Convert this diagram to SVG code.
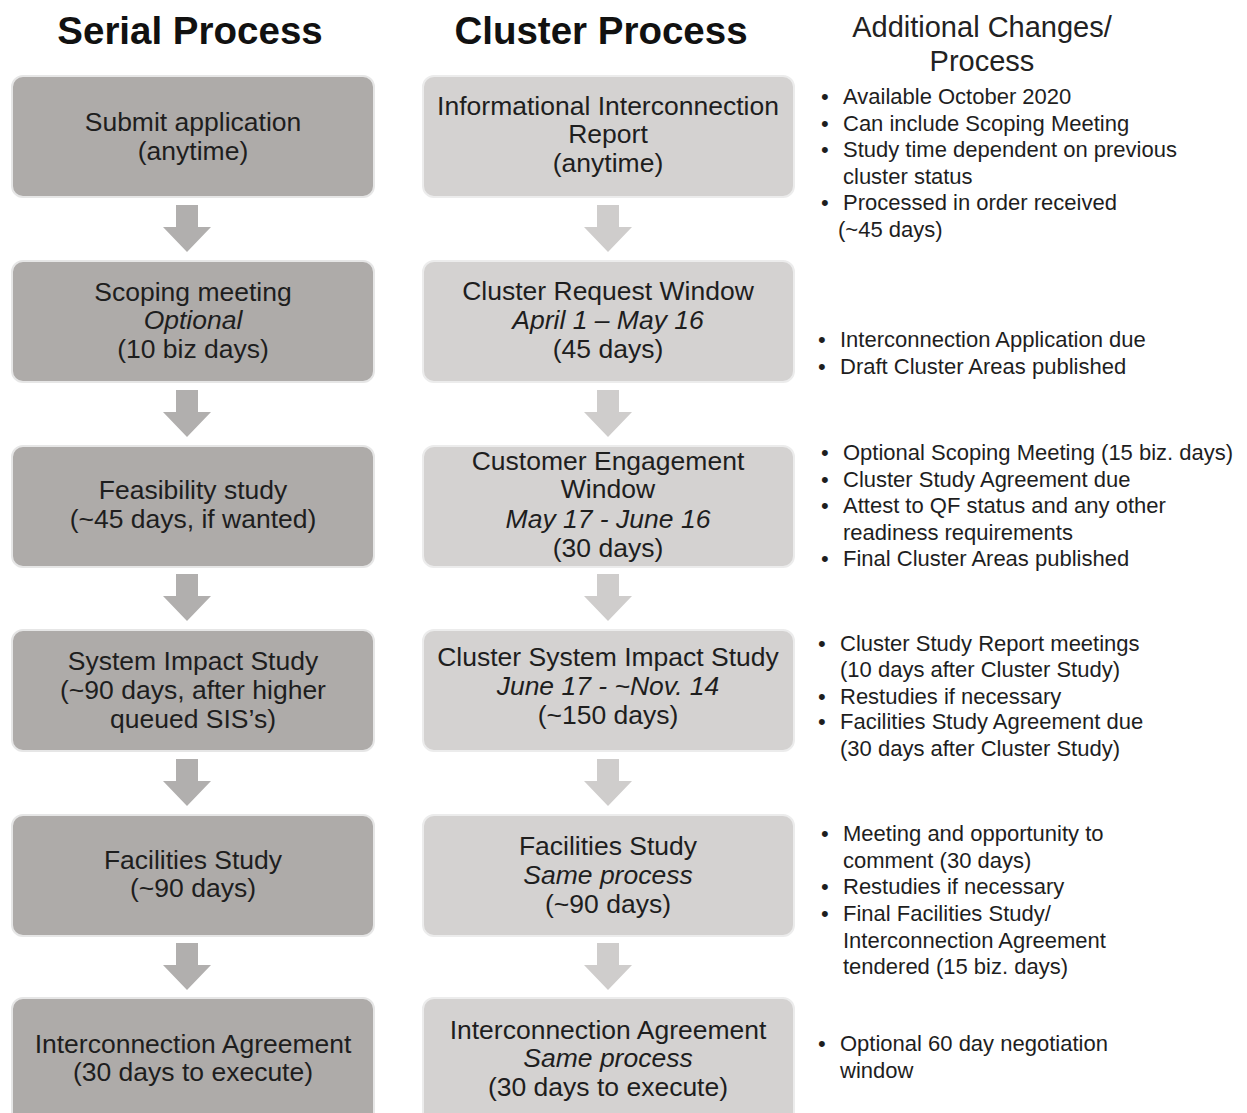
<svg xmlns="http://www.w3.org/2000/svg" width="1247" height="1113" viewBox="0 0 1247 1113">
<defs>
<style>
.title{font-family:"Liberation Sans",Arial,sans-serif;font-weight:bold;font-size:38.5px;fill:#111;text-anchor:middle}
.head{font-family:"Liberation Sans",Arial,sans-serif;font-size:29px;fill:#222;text-anchor:middle}
.box-s{fill:#aeaba9;stroke:#e6e6e6;stroke-width:2}
.box-c{fill:#d4d2d1;stroke:#ececec;stroke-width:2}
.bt{font-family:"Liberation Sans",Arial,sans-serif;font-size:26.5px;fill:#1e1e1e;text-anchor:middle}
.it{font-style:italic}
.arr-s{fill:#b1afae}
.arr-c{fill:#cfcdcc}
.bl{font-family:"Liberation Sans",Arial,sans-serif;font-size:22px;fill:#1e1e1e}
</style>
<path id="arrow" d="M-11,0 H11 V22 H24 L0,47 L-24,22 H-11 Z"/>
</defs>
<rect width="1247" height="1113" fill="#fff"/>

<text class="title" x="190" y="44">Serial Process</text>
<text class="title" x="601" y="44">Cluster Process</text>
<text class="head" x="982" y="37">Additional Changes/</text>
<text class="head" x="982" y="71">Process</text>

<g id="connectors">
<use href="#arrow" class="arr-s" x="187" y="205"/>
<use href="#arrow" class="arr-s" x="187" y="390"/>
<use href="#arrow" class="arr-s" x="187" y="574"/>
<use href="#arrow" class="arr-s" x="187" y="759"/>
<use href="#arrow" class="arr-s" x="187" y="943"/>
<use href="#arrow" class="arr-c" x="608" y="205"/>
<use href="#arrow" class="arr-c" x="608" y="390"/>
<use href="#arrow" class="arr-c" x="608" y="574"/>
<use href="#arrow" class="arr-c" x="608" y="759"/>
<use href="#arrow" class="arr-c" x="608" y="943"/>
</g>

<g id="s1"><rect class="box-s" x="12" y="76" width="362" height="121" rx="11"/>
<text class="bt" x="193" y="131">Submit application</text>
<text class="bt" x="193" y="160">(anytime)</text></g>
<g id="s2"><rect class="box-s" x="12" y="261" width="362" height="121" rx="11"/>
<text class="bt" x="193" y="301">Scoping meeting</text>
<text class="bt it" x="193" y="329">Optional</text>
<text class="bt" x="193" y="358">(10 biz days)</text></g>
<g id="s3"><rect class="box-s" x="12" y="446" width="362" height="121" rx="11"/>
<text class="bt" x="193" y="499">Feasibility study</text>
<text class="bt" x="193" y="528">(~45 days, if wanted)</text></g>
<g id="s4"><rect class="box-s" x="12" y="630" width="362" height="121" rx="11"/>
<text class="bt" x="193" y="670">System Impact Study</text>
<text class="bt" x="193" y="699">(~90 days, after higher</text>
<text class="bt" x="193" y="728">queued SIS’s)</text></g>
<g id="s5"><rect class="box-s" x="12" y="815" width="362" height="121" rx="11"/>
<text class="bt" x="193" y="869">Facilities Study</text>
<text class="bt" x="193" y="897">(~90 days)</text></g>
<g id="s6"><rect class="box-s" x="12" y="998" width="362" height="125" rx="11"/>
<text class="bt" x="193" y="1053">Interconnection Agreement</text>
<text class="bt" x="193" y="1081">(30 days to execute)</text></g>

<g id="c1"><rect class="box-c" x="423" y="76" width="371" height="121" rx="11"/>
<text class="bt" x="608" y="115">Informational Interconnection</text>
<text class="bt" x="608" y="143">Report</text>
<text class="bt" x="608" y="172">(anytime)</text></g>
<g id="c2"><rect class="box-c" x="423" y="261" width="371" height="121" rx="11"/>
<text class="bt" x="608" y="300">Cluster Request Window</text>
<text class="bt it" x="608" y="329">April 1 – May 16</text>
<text class="bt" x="608" y="358">(45 days)</text></g>
<g id="c3"><rect class="box-c" x="423" y="446" width="371" height="121" rx="11"/>
<text class="bt" x="608" y="470">Customer Engagement</text>
<text class="bt" x="608" y="498">Window</text>
<text class="bt it" x="608" y="528">May 17 - June 16</text>
<text class="bt" x="608" y="557">(30 days)</text></g>
<g id="c4"><rect class="box-c" x="423" y="630" width="371" height="121" rx="11"/>
<text class="bt" x="608" y="666">Cluster System Impact Study</text>
<text class="bt it" x="608" y="695">June 17 - ~Nov. 14</text>
<text class="bt" x="608" y="724">(~150 days)</text></g>
<g id="c5"><rect class="box-c" x="423" y="815" width="371" height="121" rx="11"/>
<text class="bt" x="608" y="855">Facilities Study</text>
<text class="bt it" x="608" y="884">Same process</text>
<text class="bt" x="608" y="913">(~90 days)</text></g>
<g id="c6"><rect class="box-c" x="423" y="998" width="371" height="125" rx="11"/>
<text class="bt" x="608" y="1039">Interconnection Agreement</text>
<text class="bt it" x="608" y="1067">Same process</text>
<text class="bt" x="608" y="1096">(30 days to execute)</text></g>

<g id="n1" class="bl">
<text x="821" y="104">•</text><text x="843" y="104">Available October 2020</text>
<text x="821" y="131">•</text><text x="843" y="131">Can include Scoping Meeting</text>
<text x="821" y="157">•</text><text x="843" y="157">Study time dependent on previous</text>
<text x="843" y="184">cluster status</text>
<text x="821" y="210">•</text><text x="843" y="210">Processed in order received</text>
<text x="838" y="237">(~45 days)</text>
</g>
<g id="n2" class="bl">
<text x="818" y="347">•</text><text x="840" y="347">Interconnection Application due</text>
<text x="818" y="374">•</text><text x="840" y="374">Draft Cluster Areas published</text>
</g>
<g id="n3" class="bl">
<text x="821" y="460">•</text><text x="843" y="460">Optional Scoping Meeting (15 biz. days)</text>
<text x="821" y="487">•</text><text x="843" y="487">Cluster Study Agreement due</text>
<text x="821" y="513">•</text><text x="843" y="513">Attest to QF status and any other</text>
<text x="843" y="540">readiness requirements</text>
<text x="821" y="566">•</text><text x="843" y="566">Final Cluster Areas published</text>
</g>
<g id="n4" class="bl">
<text x="818" y="651">•</text><text x="840" y="651">Cluster Study Report meetings</text>
<text x="840" y="677">(10 days after Cluster Study)</text>
<text x="818" y="704">•</text><text x="840" y="704">Restudies if necessary</text>
<text x="818" y="729">•</text><text x="840" y="729">Facilities Study Agreement due</text>
<text x="840" y="756">(30 days after Cluster Study)</text>
</g>
<g id="n5" class="bl">
<text x="821" y="841">•</text><text x="843" y="841">Meeting and opportunity to</text>
<text x="843" y="868">comment (30 days)</text>
<text x="821" y="894">•</text><text x="843" y="894">Restudies if necessary</text>
<text x="821" y="921">•</text><text x="843" y="921">Final Facilities Study/</text>
<text x="843" y="948">Interconnection Agreement</text>
<text x="843" y="974">tendered (15 biz. days)</text>
</g>
<g id="n6" class="bl">
<text x="818" y="1051">•</text><text x="840" y="1051">Optional 60 day negotiation</text>
<text x="840" y="1078">window</text>
</g>
</svg>
